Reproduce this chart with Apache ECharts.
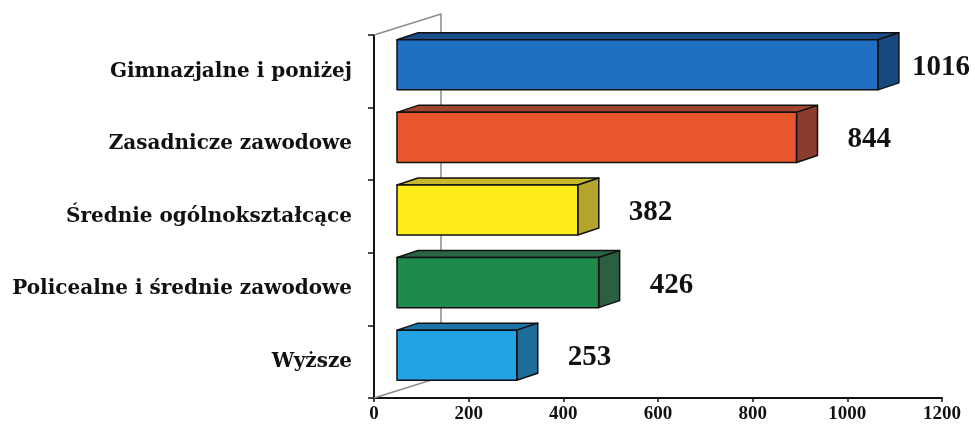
<!DOCTYPE html>
<html>
<head>
<meta charset="utf-8">
<script src="https://cdn.jsdelivr.net/npm/echarts@6/dist/echarts.min.js"></script>
<style>
  html, body { margin: 0; padding: 0; background: #fff; }
  #chart { width: 975px; height: 433px; }
</style>
</head>
<body>
<div id="chart"></div>
<script>
// dane
const categories = [
  'Gimnazjalne i poniżej',
  'Zasadnicze zawodowe',
  'Średnie ogólnokształcące',
  'Policealne i średnie zawodowe',
  'Wyższe'
]
const values = [1016, 844, 382, 426, 253]

// kolory ścian słupków
const frontColors = ['#1f6fc2', '#e8572b', '#ffec1a', '#1e8a4c', '#23a2e6']
const topColors = ['#1b4f8c', '#a2452e', '#c9b92a', '#2b6445', '#1d74a8']
const sideColors = ['#184a80', '#8a3d2e', '#b3a52c', '#2c5e42', '#1c6e98']

// przesunięcia perspektywy (px)
const FRONT_DX = 23, FRONT_DY = -6.5
const DEPTH_DX = 21, DEPTH_DY = -7
const WALL_DX = 67, WALL_DY = -21

const chart = echarts.init(document.getElementById('chart'))

function renderBar(params, api) {
  const idx = api.value(1)
  const v = api.value(0)
  const p0 = api.coord([0, idx])
  const p1 = api.coord([v, idx])
  const band = api.size([0, 1])[1]
  const h = band * 0.69
  const xl = p0[0] + FRONT_DX
  const xr = p1[0] + FRONT_DX
  const yt = p0[1] + FRONT_DY - h / 2
  const yb = yt + h
  const stroke = { stroke: '#111', lineWidth: 1.5, lineJoin: 'round' }
  const labelW = 60
  let lx = xr + DEPTH_DX + 30
  lx = Math.min(lx, 975 - labelW - 3)
  return {
    type: 'group',
    children: [
      {
        type: 'polygon',
        shape: { points: [[xl, yt], [xr, yt], [xr + DEPTH_DX, yt + DEPTH_DY], [xl + DEPTH_DX, yt + DEPTH_DY]] },
        style: Object.assign({ fill: topColors[idx] }, stroke)
      },
      {
        type: 'polygon',
        shape: { points: [[xr, yt], [xr + DEPTH_DX, yt + DEPTH_DY], [xr + DEPTH_DX, yb + DEPTH_DY], [xr, yb]] },
        style: Object.assign({ fill: sideColors[idx] }, stroke)
      },
      {
        type: 'rect',
        shape: { x: xl, y: yt, width: xr - xl, height: h },
        style: Object.assign({ fill: frontColors[idx] }, stroke)
      },
      {
        type: 'text',
        style: {
          text: String(v),
          x: lx,
          y: p0[1] - 4,
          align: 'left',
          verticalAlign: 'middle',
          fill: '#111',
          font: 'bold 29px "Liberation Serif", serif'
        }
      }
    ]
  }
}

function renderWalls(params, api) {
  const c0 = api.coord([0, 0])
  const band = api.size([0, 1])[1]
  const top = c0[1] - band / 2
  const bottom = top + band * categories.length
  const x0 = c0[0]
  return {
    type: 'polyline',
    shape: {
      points: [
        [x0, top], [x0 + WALL_DX, top + WALL_DY],
        [x0 + WALL_DX, bottom + WALL_DY], [x0, bottom]
      ]
    },
    style: { stroke: '#8a8a8a', lineWidth: 1.5, fill: null }
  }
}

const option = {
  animation: false,
  grid: { left: 374, right: 33, top: 35, bottom: 35 },
  xAxis: {
    type: 'value',
    min: 0,
    max: 1200,
    interval: 200,
    splitLine: { show: false },
    axisLine: { show: true, lineStyle: { color: '#111', width: 2 } },
    axisTick: { show: true, length: 4, lineStyle: { color: '#111', width: 1.5 } },
    axisLabel: {
      color: '#111',
      margin: 7,
      formatter: v => String(v),
      fontFamily: 'Liberation Serif',
      fontWeight: 'bold',
      fontSize: 19
    }
  },
  yAxis: {
    type: 'category',
    data: categories,
    inverse: true,
    axisLine: { show: true, lineStyle: { color: '#111', width: 2 } },
    axisTick: { show: true, length: 6, lineStyle: { color: '#111', width: 1.5 } },
    axisLabel: {
      color: '#111',
      margin: 22,
      fontFamily: 'DejaVu Serif',
      fontWeight: 'bold',
      fontSize: 20
    }
  },
  series: [
    {
      type: 'custom',
      name: 'walls',
      renderItem: renderWalls,
      data: [[0, 0]],
      encode: { x: 0, y: 1 },
      clip: false,
      silent: true,
      z: 1
    },
    {
      type: 'custom',
      name: 'bars',
      renderItem: renderBar,
      data: values.map((v, i) => [v, i]),
      encode: { x: 0, y: 1 },
      clip: false,
      z: 2
    }
  ]
}

chart.setOption(option)
</script>
</body>
</html>
